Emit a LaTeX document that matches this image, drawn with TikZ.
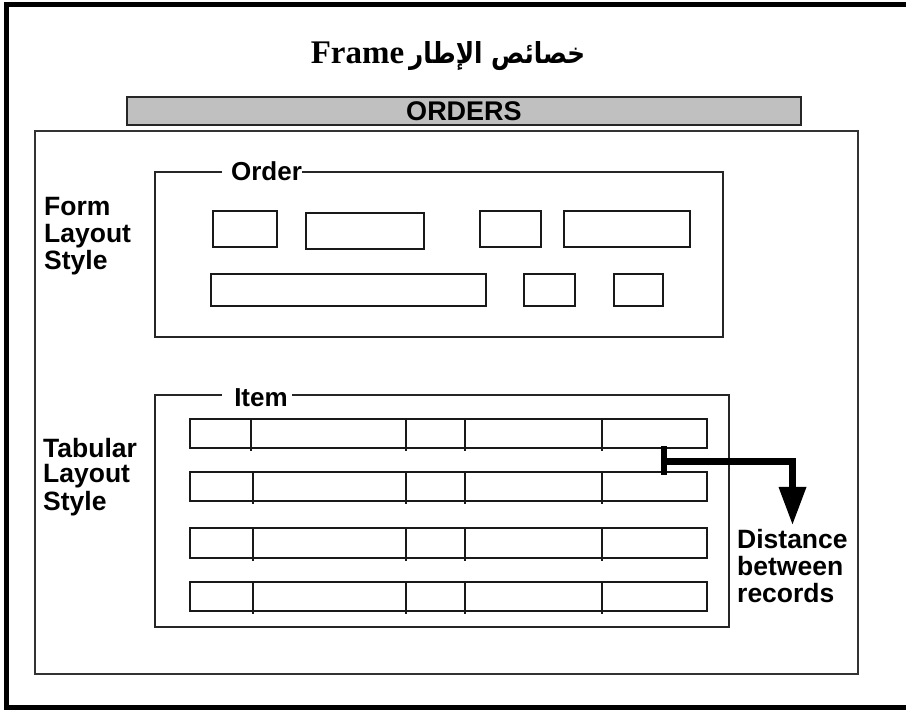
\documentclass[tikz,border=0pt]{standalone}
\usepackage{fontspec}
\setmainfont{Liberation Serif}
\setsansfont{Liberation Sans}
\newfontfamily\arabicfont[Script=Arabic]{DejaVu Sans}
\TeXXeTstate=1
\usetikzlibrary{arrows.meta}

\begin{document}
\begin{tikzpicture}[x=1pt,y=-1pt,
  lbl/.style={font=\sffamily\bfseries\fontsize{26.5}{28}\selectfont, inner sep=0pt, anchor=base west},
  caption/.style={font=\sffamily\bfseries\fontsize{26}{28}\selectfont, inner sep=0pt, anchor=base},
  groupline/.style={line width=2pt, draw=black!85},
  fieldbox/.style={line width=2pt, draw=black!90},
  rowbox/.style={line width=2pt, draw=black!90},
  pointer/.style={line width=6.5pt, draw=black},
]
\useasboundingbox (0,0) rectangle (906,711);

% outer page frame (right edge runs off the page)
\draw[line width=4.5pt] (6.5,4.5) rectangle (930,707.5);

% heading
\node[anchor=base, inner sep=0pt, font=\rmfamily\bfseries\fontsize{33}{36}\selectfont] (title) at (448,63.5)
  {Frame\hspace{5pt}\resizebox{176pt}{22pt}{\arabicfont\bfseries\beginR خصائص الإطار\endR}};

% orders bar and main form area
\node[draw=black!85, line width=2pt, fill={rgb,255:red,192;green,192;blue,192},
      minimum width=674pt, minimum height=28pt, inner sep=0pt,
      font=\sffamily\bfseries\fontsize{27}{28}\selectfont] (ordersbar) at (464,111) {ORDERS};
\draw[line width=2.2pt, draw=black!80] (35,131) rectangle (858,674);

% form layout group
\node[caption] (orderlbl) at (266.5,181) {Order};
\coordinate (ordL) at (222,172);
\coordinate (ordR) at (302,172);
\draw[groupline] (ordL) -- (155,172) -- (155,337) -- (723,337) -- (723,172) -- (ordR);

\draw[fieldbox] (212.5,211) rectangle (276.5,247.5);
\draw[fieldbox] (305.5,213) rectangle (423.5,249.5);
\draw[fieldbox] (479.5,211) rectangle (541,247.5);
\draw[fieldbox] (563.5,211) rectangle (690,247.5);
\draw[fieldbox] (211,274.5) rectangle (486,306);
\draw[fieldbox] (524,274.5) rectangle (574.5,306);
\draw[fieldbox] (614,274.5) rectangle (662.5,306);

\node[lbl] (form1) at (44,215.5) {Form};
\node[lbl] (form2) at (44,242.5) {Layout};
\node[lbl] (form3) at (44,270) {Style};

% tabular layout group
\node[caption] (itemlbl) at (261,407) {Item};
\coordinate (itmL) at (222,395);
\coordinate (itmR) at (292,395);
\draw[groupline] (itmL) -- (155,395) -- (155,627) -- (729,627) -- (729,395) -- (itmR);

\foreach \yt/\fc in {419.5/250.5, 472.5/253, 528.5/253, 582/253} {
  \draw[rowbox] (190,\yt) rectangle (707,\yt+29);
  \foreach \xc in {\fc, 406, 465, 601.5}
    \draw[rowbox] (\xc,\yt) -- (\xc,\yt+32);
}

\node[lbl] (tab1) at (43,457.3) {Tabular};
\node[lbl] (tab2) at (43,483) {Layout};
\node[lbl] (tab3) at (43,510.5) {Style};

% spacing marker between records
\node[lbl] (dist1) at (737,548) {Distance};
\node[lbl] (dist2) at (737,575.5) {between};
\node[lbl] (dist3) at (737,602) {records};

\coordinate (gapTop) at (664,446.5);
\coordinate (gapBot) at (664,475.5);
\coordinate (gapMid) at (664,461.5);
\coordinate (tip) at (792.5,525);
\draw[pointer] (gapTop) -- (gapBot);
\draw[pointer, -{Triangle[length=38pt,width=26pt]}] (gapMid) -| (tip);
\end{tikzpicture}
\end{document}
